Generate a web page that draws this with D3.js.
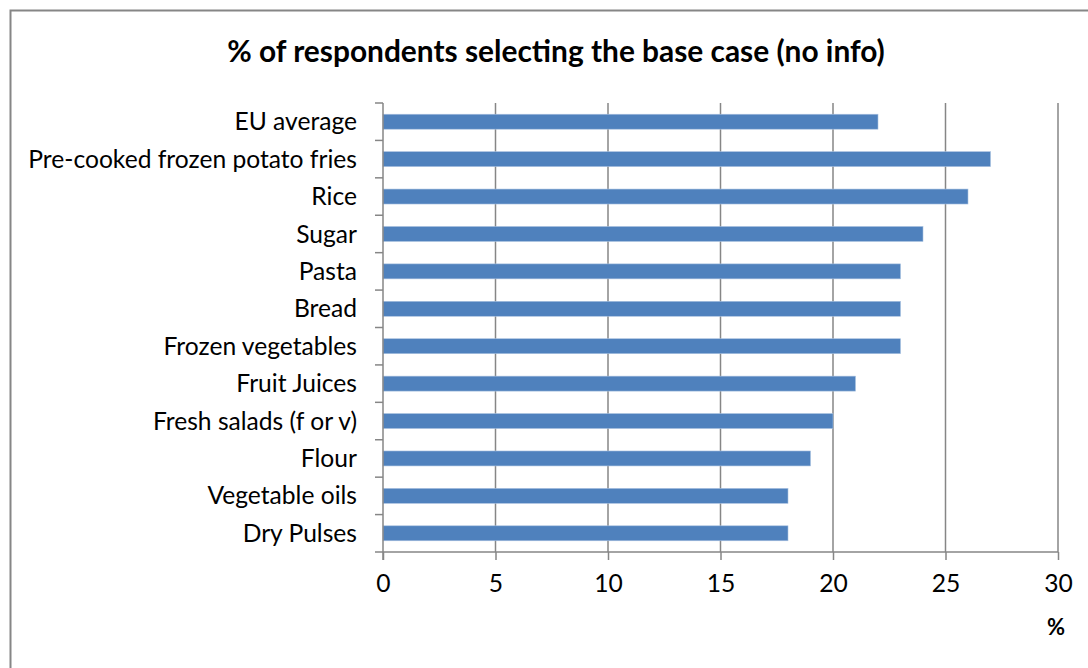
<!DOCTYPE html>
<html>
<head>
<meta charset="utf-8">
<script src="https://cdn.jsdelivr.net/npm/d3@7"></script>
<style>
  html, body { margin: 0; padding: 0; background: #fff; }
  svg { display: block; }
  text { font-family: Lato, "Open Sans", sans-serif; fill: #000; }
</style>
</head>
<body>
<svg id="chart" width="1088" height="668"></svg>
<script>
// Share of respondents selecting the base case, by product
const categories = [
  "EU average",
  "Pre-cooked frozen potato fries",
  "Rice",
  "Sugar",
  "Pasta",
  "Bread",
  "Frozen vegetables",
  "Fruit Juices",
  "Fresh salads (f or v)",
  "Flour",
  "Vegetable oils",
  "Dry Pulses"
];
const values = [22, 27, 26, 24, 23, 23, 23, 21, 20, 19, 18, 18];
const xTicks = [0, 5, 10, 15, 20, 25, 30];
const title = "% of respondents selecting the base case (no info)";
const unitLabel = "%";

const svg = d3.select("#chart");
const grey = "#868686";
const barColor = "#4F81BD";

const plot = { left: 383, right: 1058, top: 103, bottom: 552 };

// chart frame
svg.append("rect")
  .attr("x", 10.5).attr("y", 10.5)
  .attr("width", 1100).attr("height", 700)
  .attr("fill", "none").attr("stroke", grey).attr("stroke-width", 2);

const x = d3.scaleLinear().domain([0, 30]).range([plot.left, plot.right]);
const y = d3.scaleBand().domain(categories).range([plot.top, plot.bottom]).paddingInner(0.6).paddingOuter(0.3);

// vertical gridlines
svg.append("g")
  .selectAll("line")
  .data(xTicks.filter(t => t > 0))
  .join("line")
  .attr("x1", d => x(d)).attr("x2", d => x(d))
  .attr("y1", plot.top).attr("y2", plot.bottom)
  .attr("stroke", grey).attr("stroke-width", 1.5);

// bars
svg.append("g")
  .selectAll("rect")
  .data(categories)
  .join("rect")
  .attr("x", x(0))
  .attr("y", d => y(d))
  .attr("width", (d, i) => x(values[i]) - x(0))
  .attr("height", y.bandwidth())
  .attr("fill", barColor)
  .attr("stroke", "#a9c1e0").attr("stroke-width", 0.6);

// x axis
const xAxis = d3.axisBottom(x).tickValues(xTicks).tickSize(8).tickPadding(15).tickFormat(d3.format("d"));
const gx = svg.append("g").attr("transform", `translate(0,${plot.bottom})`).call(xAxis);
gx.select(".domain").attr("stroke", grey).attr("stroke-width", 1.5).attr("d", `M${plot.left},0H${plot.right}`);
gx.selectAll(".tick line").attr("stroke", grey).attr("stroke-width", 1.5);
gx.selectAll(".tick text").style("font-size", "20px").attr("dy", "0.71em");

// y axis with ticks at category boundaries
const bounds = d3.range(categories.length + 1).map(i => plot.top + i * (plot.bottom - plot.top) / categories.length);
const gy = svg.append("g");
gy.append("line")
  .attr("x1", plot.left).attr("x2", plot.left)
  .attr("y1", plot.top).attr("y2", plot.bottom + 8)
  .attr("stroke", grey).attr("stroke-width", 1.5);
gy.selectAll("line.tk")
  .data(bounds)
  .join("line")
  .attr("class", "tk")
  .attr("x1", plot.left - 8).attr("x2", plot.left)
  .attr("y1", d => d).attr("y2", d => d)
  .attr("stroke", grey).attr("stroke-width", 1.5);

const labels = gy.selectAll("text")
  .data(categories)
  .join("text")
  .attr("x", 357)
  .attr("y", d => y(d) + y.bandwidth() / 2)
  .attr("dy", "0.35em")
  .attr("text-anchor", "end")
  .style("font-size", "20px")
  .text(d => d);

// size labels so the longest one spans the space left of the axis
const longest = labels.filter(d => d === "Pre-cooked frozen potato fries").node();
const w = longest.getComputedTextLength();
const fs = 20 * 329 / w;
labels.style("font-size", fs + "px");
gx.selectAll(".tick text").style("font-size", fs + "px");

// title
const t = svg.append("text")
  .attr("x", 556).attr("y", 62)
  .attr("text-anchor", "middle")
  .style("font-weight", "bold")
  .style("font-size", "24px")
  .text(title);
const tw = t.node().getComputedTextLength();
t.style("font-size", (24 * 658 / tw) + "px");

// unit label
svg.append("text")
  .attr("x", 1056).attr("y", 635)
  .attr("text-anchor", "middle")
  .style("font-weight", "bold")
  .style("font-size", "22px")
  .text(unitLabel);
</script>
</body>
</html>
